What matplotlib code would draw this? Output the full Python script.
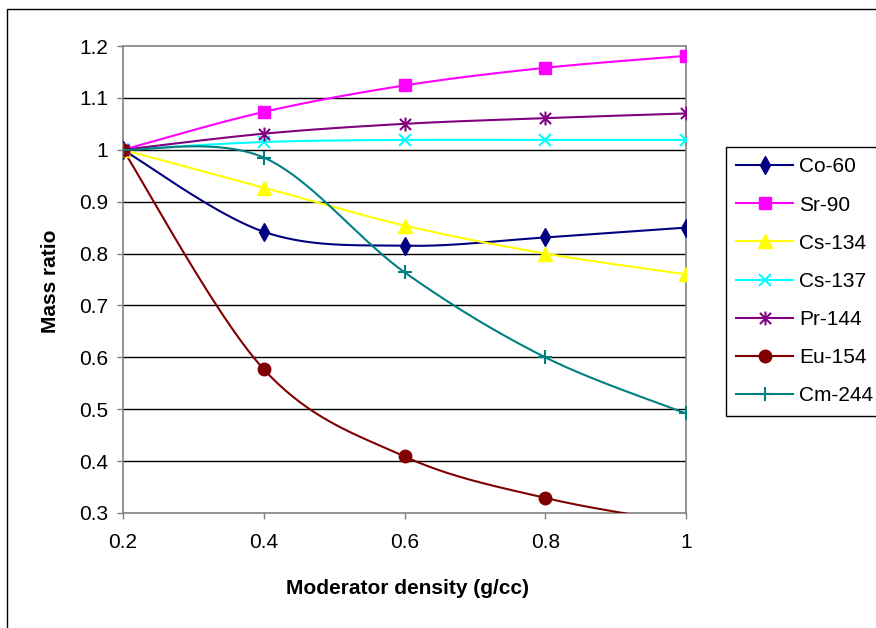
import numpy as np
import matplotlib
matplotlib.use("Agg")
import matplotlib.pyplot as plt
from matplotlib.patches import Rectangle
from matplotlib.path import Path

# moderator density (g/cc) and mass ratio per nuclide
density = [0.2, 0.4, 0.6, 0.8, 1.0]

co60 = [1.0, 0.842, 0.815, 0.831, 0.85]
sr90 = [1.0, 1.073, 1.124, 1.158, 1.181]
cs134 = [1.0, 0.927, 0.854, 0.80, 0.76]
cs137 = [1.0, 1.015, 1.019, 1.019, 1.019]
pr144 = [1.0, 1.031, 1.050, 1.061, 1.070]
eu154 = [1.0, 0.577, 0.409, 0.329, 0.28]
cm244 = [1.0, 0.985, 0.764, 0.60, 0.492]

names = ["Co-60", "Sr-90", "Cs-134", "Cs-137", "Pr-144", "Eu-154", "Cm-244"]

y_ticks = [0.3, 0.4, 0.5, 0.6, 0.7, 0.8, 0.9, 1.0, 1.1, 1.2]
x_ticks = [0.2, 0.4, 0.6, 0.8, 1.0]

# asterisk marker: "x" with a vertical bar through it
ASTER = Path(
    [(-1, -1), (1, 1), (-1, 1), (1, -1), (0, -1.25), (0, 1.25)],
    [Path.MOVETO, Path.LINETO, Path.MOVETO, Path.LINETO, Path.MOVETO, Path.LINETO],
)

STYLES = [
    dict(color="#000080", marker="d", ms=9, mfc="#000080"),
    dict(color="#FF00FF", marker="s", ms=9, mfc="#FF00FF"),
    dict(color="#FFFF00", marker="^", ms=10, mfc="#FFFF00"),
    dict(color="#00FFFF", marker="x", ms=9, mew=1.5),
    dict(color="#800080", marker=ASTER, ms=10, mew=1.5),
    dict(color="#800000", marker="o", ms=9, mfc="#800000"),
    dict(color="#008080", marker="+", ms=10, mew=1.5),
]


def smooth(xs, ys, n=40):
    """Catmull-Rom style bezier smoothing through the data points."""
    p = np.column_stack([xs, ys]).astype(float)
    pts = np.vstack([p[0], p, p[-1]])
    out = []
    t = np.linspace(0, 1, n)[:, None]
    for i in range(1, len(pts) - 2):
        p0, p1, p2, p3 = pts[i - 1], pts[i], pts[i + 1], pts[i + 2]
        c1 = p1 + (p2 - p0) / 6
        c2 = p2 - (p3 - p1) / 6
        seg = ((1 - t) ** 3) * p1 + 3 * ((1 - t) ** 2) * t * c1 \
            + 3 * (1 - t) * t ** 2 * c2 + t ** 3 * p2
        out.append(seg if i == 1 else seg[1:])
    out = np.vstack(out)
    return out[:, 0], out[:, 1]


plt.rcParams["font.family"] = ["Liberation Sans", "DejaVu Sans"]

W, H = 876, 628
fig = plt.figure(figsize=(W / 100, H / 100), dpi=100)
ax = fig.add_axes([123 / W, 1 - 513 / H, (686 - 123) / W, (513 - 46) / H])

series = [co60, sr90, cs134, cs137, pr144, eu154, cm244]
for name, vals, st in zip(names, series, STYLES):
    sx, sy = smooth(density, vals)
    ax.plot(sx, sy, color=st["color"], lw=1.5, zorder=3)
    ax.plot(density, vals, ls="none", marker=st["marker"], ms=st["ms"],
            color=st["color"], mfc=st.get("mfc", st["color"]),
            mec=st["color"], mew=st.get("mew", 1.0), zorder=4)
    # legend proxy with line and marker
    ax.plot([], [], lw=1.5, label=name, marker=st["marker"],
            ms=st["ms"], color=st["color"], mfc=st.get("mfc", st["color"]),
            mec=st["color"], mew=st.get("mew", 1.0))

ax.set_xlim(0.2, 1.0)
ax.set_ylim(0.3, 1.2)
ax.set_xticks(x_ticks)
ax.set_xticklabels([f"{v:g}" for v in x_ticks])
ax.set_yticks(y_ticks)
ax.set_yticklabels([f"{v:g}" for v in y_ticks])
for v in y_ticks[1:-1]:
    ax.axhline(v, color="black", lw=1.0, zorder=1)

for s in ax.spines.values():
    s.set_color("#808080")
    s.set_linewidth(1.2)
ax.tick_params(axis="both", direction="out", length=4.5, width=1.0,
               color="#808080", labelsize=15)
ax.tick_params(axis="x", pad=10)
ax.tick_params(axis="y", pad=6)

fig.text(407 / W, 1 - 594 / H, "Moderator density (g/cc)", fontsize=15,
         fontweight="bold", ha="center", va="baseline")
fig.text(50 / W, 1 - 281 / H, "Mass ratio", fontsize=15, fontweight="bold",
         rotation=90, ha="center", va="center")

leg = ax.legend(loc="upper left", bbox_to_anchor=(726 / W, 1 - 147 / H),
                bbox_transform=fig.transFigure, fontsize=15, frameon=True,
                fancybox=False, edgecolor="black", framealpha=1,
                handlelength=2.7, handletextpad=0.3, labelspacing=0.92,
                borderpad=0.5, borderaxespad=0)
leg.get_frame().set_linewidth(1.0)

# outer chart border
fig.patches.append(Rectangle((6.5 / W, -0.05), 1.0, 1 - 8.5 / H + 0.05,
                             transform=fig.transFigure, fill=False,
                             edgecolor="black", lw=1.0))

fig.savefig("out.png", dpi=100, facecolor="white")
